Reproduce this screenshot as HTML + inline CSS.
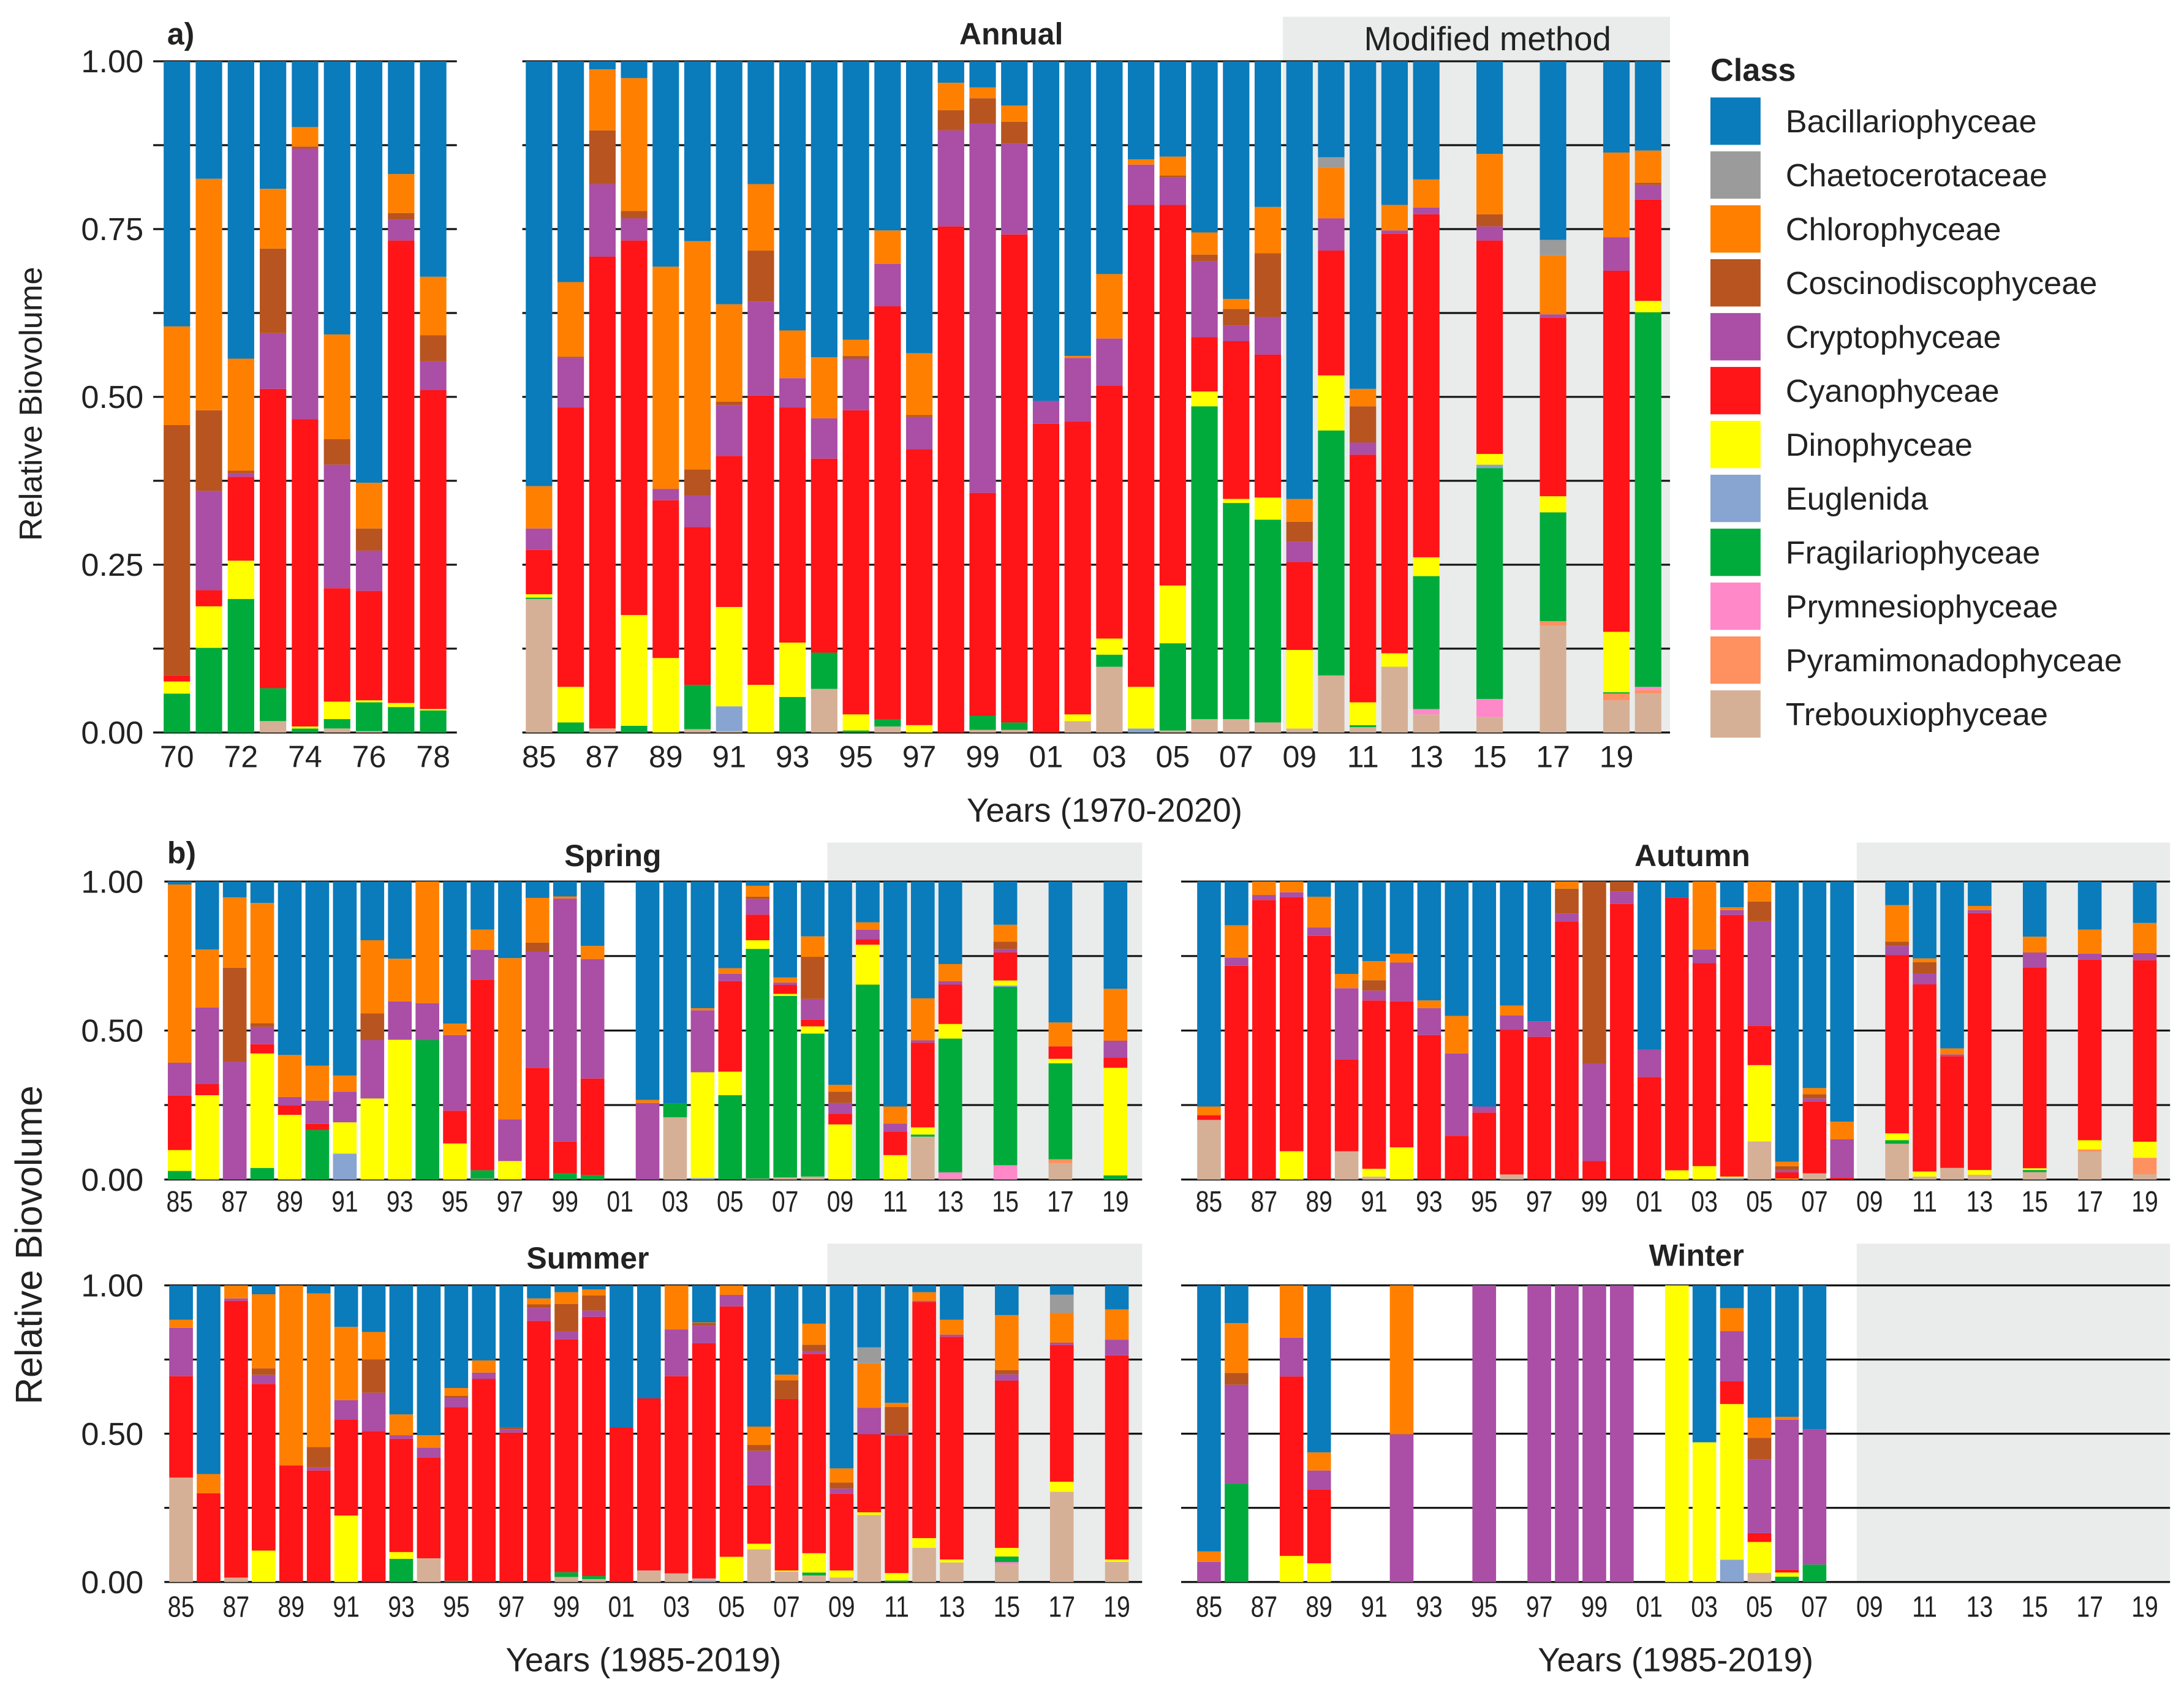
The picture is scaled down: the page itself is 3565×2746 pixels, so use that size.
<!DOCTYPE html>
<html><head><meta charset="utf-8"><style>
html,body{margin:0;padding:0;background:#fff;}
svg{display:block;}
text{font-family:"Liberation Sans",Arial,sans-serif;fill:#222;}
</style></head><body>
<svg id="chart" xmlns="http://www.w3.org/2000/svg" width="3565" height="2746" viewBox="0 0 1568 1207.8" preserveAspectRatio="none">
<g id="bg"></g>
<g id="grid"></g>
<g id="bars"></g>
<g id="labels"></g>
<g id="legend"></g>
</svg>
<script>
// ---- classes ----
const classCodes = ["B","Ch","C","Co","Cr","Cy","D","E","F","P","Py","T"];
const classNames = ["Bacillariophyceae","Chaetocerotaceae","Chlorophyceae","Coscinodiscophyceae","Cryptophyceae","Cyanophyceae","Dinophyceae","Euglenida","Fragilariophyceae","Prymnesiophyceae","Pyramimonadophyceae","Trebouxiophyceae"];
const classColors = ["#0a7bbb","#9b9b9b","#ff8000","#b8541f","#aa4ea6","#ff1418","#ffff00","#88a4d0","#00ab3c","#ff88c8","#ff9060","#d6b096"];
// bar strings: cumulative share tops from bottom to top, "code+top"
const annualLeftYears = [70,71,72,73,74,75,76,77,78];
const annualLeftBars = [
"F.058 D.076 Cy.085 Co.458 C.605 B1","F.126 D.188 Cy.212 Cr.36 Co.48 C.825 B1","F.199 D.256 Cy.381 Cr.386 Co.39 C.557 B1",
"T.017 F.066 Cy.512 Cr.595 Co.721 C.81 B1","F.006 D.009 Cy.467 Cr.87 Co.873 C.902 B1","T.006 F.02 D.046 Cy.215 Cr.399 Co.437 C.593 B1",
"T.002 F.045 D.048 Cy.211 Cr.271 Co.304 C.372 B1","F.038 D.044 Cy.733 Cr.764 Co.774 C.832 B1","F.033 D.035 Cy.51 Cr.553 Co.592 C.679 B1"];
const annualRightYears = [85,86,87,88,89,90,91,92,93,94,95,96,97,98,99,0,1,2,3,4,5,6,7,8,9,10,11,12,13,15,17,19,20];
const annualRightBars = [
"T.199 F.201 D.206 Cy.272 Cr.304 C.367 B1","F.015 D.068 Cy.484 Cr.558 Co.56 C.671 B1","T.006 Cy.709 Cr.817 Co.897 C.988 B1",
"F.01 D.175 Cy.733 Cr.766 Co.777 C.975 B1","D.111 Cy.346 Cr.363 C.694 B1","T.005 F.071 Cy.306 Cr.353 Co.392 C.732 B1",
"T.002 E.039 D.187 Cy.412 Cr.488 Co.493 C.638 B1","D.071 Cy.502 Cr.642 Co.718 C.817 B1","F.053 D.134 Cy.484 Cr.528 C.599 B1",
"T.065 F.119 Cy.408 Cr.468 C.559 B1","F.003 D.027 Cy.48 Cr.557 Co.561 C.585 B1","T.009 F.02 Cy.635 Cr.698 C.748 B1",
"D.011 Cy.422 Cr.47 Co.473 C.565 B1","Cy.754 Cr.897 Co.927 C.968 B1","T.004 F.025 Cy.357 Cr.907 Co.945 C.961 B1",
"T.004 F.015 Cy.742 Cr.877 Co.91 C.934 B1","Cy.46 Cr.494 B1","T.017 D.027 Cy.463 Cr.558 C.561 B1",
"T.098 F.116 D.14 Cy.517 Cr.587 C.683 B1","E.006 D.068 Cy.786 Cr.846 C.854 B1","T.003 F.133 D.219 Cy.786 Cr.827 Co.83 C.858 B1",
"T.02 F.486 D.508 Cy.589 Cr.702 Co.712 C.745 B1","T.02 F.342 D.348 Cy.583 Cr.606 Co.631 C.646 B1","T.015 F.317 D.35 Cy.563 Cr.619 Co.714 C.783 B1",
"T.006 D.123 Cy.254 Cr.284 Co.314 C.348 B1","T.085 F.45 D.532 Cy.718 Cr.766 C.842 Ch.857 B1","T.008 F.011 D.045 Cy.414 Cr.432 Co.486 C.512 B1",
"T.098 D.118 Cy.743 Cr.748 C.786 B1","T.027 P.035 F.233 D.261 Cy.772 Cr.782 C.824 B1","T.023 P.05 F.394 E.399 D.415 Cy.733 Cr.754 Co.772 C.862 B1",
"T.159 Py.166 F.328 D.352 Cy.618 Cr.623 C.711 Ch.734 B1","T.048 Py.058 F.06 D.15 Cy.688 Cr.738 C.864 B1","T.058 Py.063 P.068 F.626 D.643 Cy.794 Cr.816 Co.819 C.867 B1"];
const springYears = [85,86,87,88,89,90,91,92,93,94,95,96,97,98,99,0,2,3,4,5,6,7,8,9,10,11,12,13,15,17,19];
const springBars = [
"F.029 D.099 Cy.281 Cr.392 C.99 B1","D.283 Cy.32 Cr.577 C.772 B1","Cr.395 Co.711 C.947 B1","F.039 D.423 Cy.454 Cr.512 Co.525 C.928 B1",
"D.217 Cy.248 Cr.277 C.418 B1","F.166 Cy.187 Cr.265 C.382 B1","E.087 D.192 Cr.295 C.349 B1","D.272 Cr.468 Co.558 C.803 B1",
"D.469 Cr.598 C.741 B1","F.468 Cr.592 C1","D.121 Cy.231 Cr.485 C.523 B1","T.003 F.031 Cy.671 Cr.771 C.839 B1",
"D.062 Cr.202 C.743 B1","Cy.375 Cr.764 Co.795 C.945 B1","F.022 Cy.127 Cr.943 C.95 B1","F.015 Cy.339 Cr.74 C.784 B1",
"Cr.257 C.267 B1","T.209 F.255 B1","E.005 D.36 Cr.568 C.575 B1","F.283 D.362 Cy.666 Cr.69 C.709 B1",
"T.003 F.774 D.803 Cy.889 Cr.942 Co.949 C.986 B1","T.007 F.616 D.623 Cy.653 Cr.661 C.678 B1","T.01 F.49 D.514 Cy.536 Cr.606 Co.747 C.816 B1",
"D.185 Cy.221 Cr.257 Co.295 C.318 B1","F.654 D.788 Cy.806 Cr.838 C.863 B1","D.082 Cy.161 Cr.188 C.245 B1",
"T.144 F.151 D.175 Cy.459 Cr.467 C.608 B1","T.003 P.024 F.473 D.522 Cy.654 Cr.666 C.723 B1","P.048 F.647 E.651 D.668 Cy.762 Cr.774 Co.798 C.855 B1",
"T.055 Py.068 F.39 D.405 Cy.447 C.527 B1","F.014 D.375 Cy.41 Cr.466 C.64 B1"];
const autumnYears = [85,86,87,88,89,90,91,92,93,94,95,96,97,98,99,0,1,2,3,4,5,6,7,8,10,11,12,13,15,17,19];
const autumnBars = [
"T.2 Cy.216 C.245 B1","Cy.717 Cr.745 C.853 B1","Cy.938 Cr.955 C1","D.095 Cy.947 Cr.964 C1","Cy.818 Cr.846 C.949 B1",
"T.095 Cy.403 Cr.642 C.69 B1","T.01 D.036 Cy.601 Cr.634 Co.669 C.733 B1","D.108 Cy.598 Cr.728 C.758 B1","Cy.485 Cr.575 C.601 B1",
"Cy.147 Cr.423 C.549 B1","Cy.225 Cr.245 B1","T.017 Cy.502 Cr.551 C.584 B1","Cy.479 Cr.531 B1","Cy.866 Cr.892 Co.976 C1",
"Cy.062 Cr.388 Co1","Cy.925 Cr.966 Co1","Cy.344 Cr.436 B1","D.031 Cy.945 B1","D.045 Cy.726 Cr.772 C1",
"E.005 D.01 Cy.888 Cr.904 C.914 B1","T.128 D.384 Cy.516 Cr.867 Co.933 C1","D.003 Cy.024 Cr.031 Co.045 C.06 B1",
"T.021 Cy.262 Cr.272 Co.286 C.307 B1","Cy.007 Cr.135 C.194 B1","T.12 F.132 D.155 Cy.753 Cr.784 Co.798 C.921 B1",
"T.01 D.027 Cy.655 Cr.692 Co.729 C.742 B1","T.039 Cy.414 Cr.42 C.44 B1","T.016 D.032 Cy.894 Cr.904 C.918 B1",
"T.025 F.032 D.038 Cy.712 Cr.762 C.815 B1","T.094 Py.101 D.132 Cy.738 Cr.758 C.839 B1","T.018 Py.073 D.127 Cy.736 Cr.76 C.861 B1"];
const summerYears = [85,86,87,88,89,90,91,92,93,94,95,96,97,98,99,0,1,2,3,4,5,6,7,8,9,10,11,12,13,15,17,19];
const summerBars = [
"T.352 Cy.694 Cr.857 C.884 B1","Cy.299 C.364 B1","T.015 Cy.948 Cr.956 C1","D.106 Cy.668 Cr.698 Co.72 C.97 B1","Cy.393 C1",
"Cy.376 Cr.386 Co.455 C.973 B1","D.224 Cy.548 Cr.613 C.86 B1","Cy.509 Cr.638 Co.75 C.843 B1","F.078 D.101 Cy.483 Cr.495 C.565 B1",
"T.08 Cy.42 Cr.453 C.495 B1","F.004 Cy.589 Cr.621 Co.628 C.654 B1","Cy.685 Cr.706 C.747 B1","Cy.504 Cr.515 Co.522 B1",
"Cy.88 Cr.924 Co.936 C.956 B1","T.017 F.033 Cy.818 Cr.845 Co.937 C.977 B1","T.01 F.02 Cy.894 Cr.915 Co.966 C.986 B1",
"Cy.522 B1","T.039 Cy.619 B1","T.029 Cy.694 Cr.852 C1","E.005 T.012 Cy.805 Cr.864 Co.873 C.875 B1","D.085 Cy.929 Cr.968 C1",
"T.11 D.129 Cy.326 Cr.442 Co.462 C.524 B1","T.035 D.039 Cy.617 Co.68 C.699 B1","T.022 F.032 D.097 Cy.769 Cr.779 Co.8 C.871 B1",
"T.015 D.039 Cy.297 Cr.315 Co.335 C.383 B1","T.226 D.235 Cy.498 Cr.587 C.737 Ch.791 B1","F.005 D.03 Cy.494 Cr.498 Co.59 C.604 B1",
"T.115 D.148 Cy.944 Cr.948 C.977 B1","T.066 D.076 Cy.827 Cr.834 C.884 B1","T.059 P.067 F.086 D.115 Cy.679 Cr.7 Co.714 C.9 B1",
"T.304 D.338 Cy.799 Cr.807 C.907 Ch.969 B1","T.068 D.076 Cy.764 Cr.817 C.919 B1"];
const winterYears = [85,86,88,89,92,95,97,98,99,0,2,3,4,5,6,7];
const winterBars = [
"Cr.068 C.103 B1","F.331 Cr.665 Co.705 C.873 B1","D.088 Cy.693 Cr.824 C1","D.063 Cy.312 Cr.376 C.437 B1","Cr.498 C1",
"Cr1","Cr1","Cr1","Cr1","Cr1","D1","D.471 B1","E.075 D.6 Cy.677 Cr.846 C.923 B1","T.031 D.135 Cy.165 Cr.413 Co.486 C.554 B1",
"F.018 D.032 Cy.041 Cr.547 C.557 B1","F.059 Cr.515 B1"];
const annualYTicks = ["0.00","0.25","0.50","0.75","1.00"];
const seasonYTicks = ["0.00","0.50","1.00"];
const oddTickYears = [85,87,89,91,93,95,97,99,1,3,5,7,9,11,13,15,17,19];
const leftTickYears = [70,72,74,76,78];

const NS="http://www.w3.org/2000/svg";
function mk(parent,tag,attrs,txt){const e=document.createElementNS(NS,tag);for(const k in attrs)e.setAttribute(k,attrs[k]);if(txt!==undefined)e.textContent=txt;document.getElementById(parent).appendChild(e);return e;}
function fullYear(y){return y>=50?1900+y:2000+y;}
function pad(y){return (y<10?"0":"")+y;}

const panels = {
  aL:{x0:127,step:23,ref:1970,bw:19,yTop:44,yBot:526,xa:110,xb:328},
  aR:{x0:387,step:22.75,ref:1985,bw:19,yTop:44,yBot:526,xa:375,xb:1199},
  sp:{x0:129,step:19.76,ref:1985,bw:17,yTop:633,yBot:847,xa:118,xb:820},
  au:{x0:868,step:19.76,ref:1985,bw:17,yTop:633,yBot:847,xa:848,xb:1558},
  su:{x0:130,step:19.76,ref:1985,bw:17,yTop:923,yBot:1136,xa:118,xb:820},
  wi:{x0:868,step:19.76,ref:1985,bw:17,yTop:923,yBot:1136,xa:848,xb:1558}
};
function xS(p,y){return p.x0+(fullYear(y)-p.ref)*p.step;}
function yS(p,v){return p.yBot-v*(p.yBot-p.yTop);}

let r;
r=mk("bg","rect",{x:921,y:12,width:278,height:514,fill:"#eaeceb"});


[[594,605,226,242],[1333,605,225,242],[594,893,226,243],[1333,893,225,243]].forEach(a=>{
  const g=mk("bg","rect",{x:a[0],y:a[1],width:a[2],height:a[3],fill:"#eaeceb"});
  
  
});

function grid(p,steps){for(let i=0;i<=steps;i++){const y=yS(p,i/steps);const l=mk("grid","line",{x1:p.xa,x2:p.xb,y1:y,y2:y,stroke:"#111","stroke-width":1.4});
  
  }}
grid(panels.aL,8);grid(panels.aR,8);grid(panels.sp,4);grid(panels.au,4);grid(panels.su,4);grid(panels.wi,4);

function drawBars(p,years,bars,name){
  years.forEach((yr,i)=>{
    const segs=bars[i].split(" ");let prev=0;const x=xS(p,yr)-p.bw/2;
    segs.forEach(s=>{const m=s.match(/^([A-Za-z]+)([\d.]+)$/);const ci=classCodes.indexOf(m[1]);const top=parseFloat(m[2]);
      const y1=yS(p,top),y0=yS(p,prev);
      const rc=mk("bars","rect",{x:x,y:Math.min(y0,y1),width:p.bw,height:Math.abs(y0-y1),fill:classColors[ci]});
      
      
      prev=top;});
  });
}
drawBars(panels.aL,annualLeftYears,annualLeftBars,"annual-bar");
drawBars(panels.aR,annualRightYears,annualRightBars,"annual-bar");
drawBars(panels.sp,springYears,springBars,"spring-bar");
drawBars(panels.au,autumnYears,autumnBars,"autumn-bar");
drawBars(panels.su,summerYears,summerBars,"summer-bar");
drawBars(panels.wi,winterYears,winterBars,"winter-bar");

function T(x,y,s,attrs,name){const t=mk("labels","text",Object.assign({x:x,y:y,"font-size":22},attrs||{}),s);
  
  return t;}

annualYTicks.forEach((s,i)=>T(103,yS(panels.aL,i*0.25)+8,s,{"text-anchor":"end","font-size":23},"y-tick-label"));
[panels.sp,panels.su].forEach(p=>seasonYTicks.forEach((s,i)=>T(103,yS(p,i*0.5)+8,s,{"text-anchor":"end","font-size":23},"y-tick-label")));

leftTickYears.forEach(y=>T(xS(panels.aL,y),551,pad(y),{"text-anchor":"middle","font-size":22},"x-tick-label"));
oddTickYears.forEach(y=>T(xS(panels.aR,y),551,pad(y),{"text-anchor":"middle","font-size":22},"x-tick-label"));
[[panels.sp,870],[panels.au,870],[panels.su,1161],[panels.wi,1161]].forEach(a=>oddTickYears.forEach(y=>{
  const t=T(xS(a[0],y),a[1],pad(y),{"text-anchor":"middle","font-size":21},"x-tick-label");
  t.setAttribute("transform","translate("+xS(a[0],y)+",0) scale(0.82,1) translate("+(-xS(a[0],y))+",0)");
}));

T(120,32,"a)",{"font-size":22,"font-weight":"bold"},"panel-a-label");
T(726,32,"Annual",{"font-size":22,"font-weight":"bold","text-anchor":"middle"},"annual-title");
T(1068,36,"Modified method",{"font-size":24,"text-anchor":"middle",fill:"#333"},"modified-method-label");
T(120,620,"b)",{"font-size":22,"font-weight":"bold"},"panel-b-label");
T(440,622,"Spring",{"font-size":22,"font-weight":"bold","text-anchor":"middle"},"spring-title");
T(1215,622,"Autumn",{"font-size":22,"font-weight":"bold","text-anchor":"middle"},"autumn-title");
T(422,911,"Summer",{"font-size":22,"font-weight":"bold","text-anchor":"middle"},"summer-title");
T(1218,909,"Winter",{"font-size":22,"font-weight":"bold","text-anchor":"middle"},"winter-title");
T(793,590,"Years (1970-2020)",{"font-size":24,"text-anchor":"middle"},"x-axis-title-annual");
T(462,1200,"Years (1985-2019)",{"font-size":24,"text-anchor":"middle"},"x-axis-title-summer");
T(1203,1200,"Years (1985-2019)",{"font-size":24,"text-anchor":"middle"},"x-axis-title-winter");
T(0,0,"Relative Biovolume",{"font-size":23,"text-anchor":"middle","transform":"translate(30,290) rotate(-90)"},"y-axis-title-annual");
T(0,0,"Relative Biovolume",{"font-size":27,"text-anchor":"middle","textLength":229,"lengthAdjust":"spacingAndGlyphs","transform":"translate(30,894) rotate(-90)"},"y-axis-title-seasonal");

const lt=mk("legend","text",{x:1228,y:58,"font-size":23,"font-weight":"bold"},"Class");


classNames.forEach((n,i)=>{
  const y=70+i*38.7;
  const sw=mk("legend","rect",{x:1228,y:y,width:36,height:34,fill:classColors[i]});
  
  
  const tx=mk("legend","text",{x:1282,y:y+25,"font-size":23},n);
  
  
});
</script>
</body></html>
